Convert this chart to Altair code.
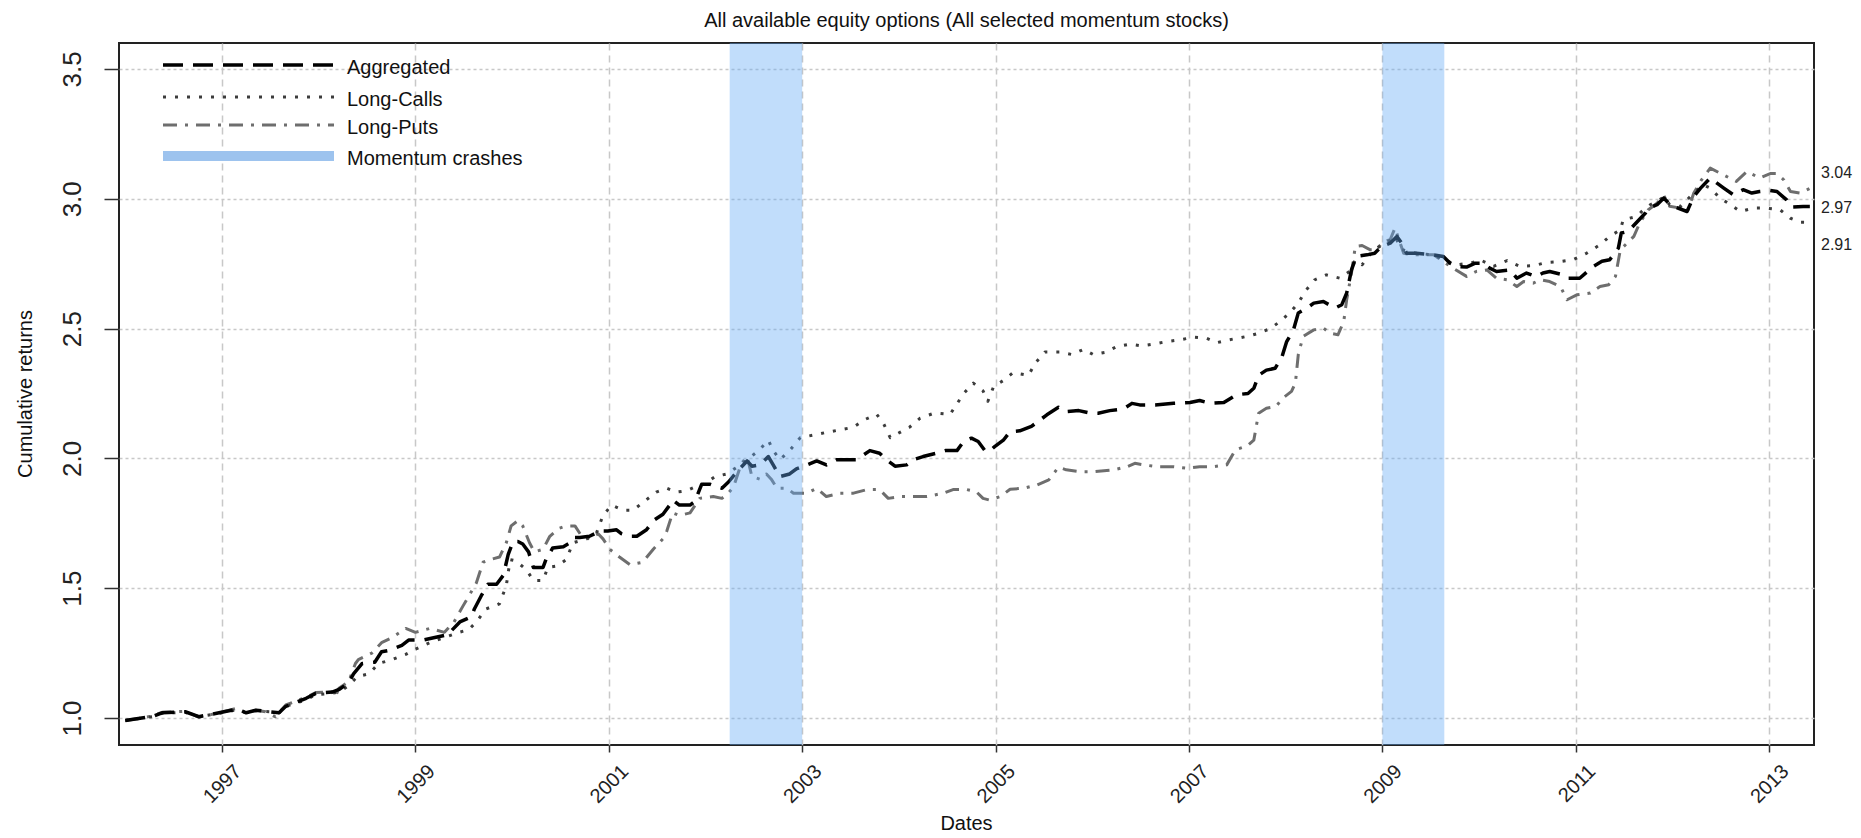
import altair as alt
import pandas as pd

# ---------------- data ----------------
TITLE = "All available equity options (All selected momentum stocks)"
X_TITLE = "Dates"
Y_TITLE = "Cumulative returns"
SERIES_NAMES = ["Aggregated", "Long-Calls", "Long-Puts"]
LEGEND_LABELS = ["Aggregated", "Long-Calls", "Long-Puts", "Momentum crashes"]
X_TICKS = [1997, 1999, 2001, 2003, 2005, 2007, 2009, 2011, 2013]
Y_TICKS = [1.0, 1.5, 2.0, 2.5, 3.0, 3.5]
CRASH_START = [2002.25, 2009.0]
CRASH_END = [2003.0, 2009.64]

AGGREGATED = [
    (1996.00, 0.99), (1996.17, 1.00), (1996.28, 1.005), (1996.38, 1.02), (1996.62, 1.024),
    (1996.76, 1.005), (1996.97, 1.02), (1997.16, 1.035), (1997.25, 1.02), (1997.35, 1.03),
    (1997.49, 1.024), (1997.59, 1.02), (1997.66, 1.045), (1997.87, 1.076), (1997.97, 1.095),
    (1998.14, 1.10), (1998.21, 1.11), (1998.31, 1.135), (1998.36, 1.17), (1998.45, 1.21),
    (1998.58, 1.215), (1998.65, 1.255), (1998.72, 1.26), (1998.86, 1.28), (1998.93, 1.30),
    (1999.08, 1.30), (1999.20, 1.31), (1999.33, 1.32), (1999.46, 1.37), (1999.58, 1.39),
    (1999.61, 1.42), (1999.68, 1.47), (1999.75, 1.515), (1999.84, 1.515), (1999.91, 1.55),
    (1999.96, 1.63), (2000.01, 1.68), (2000.06, 1.68), (2000.11, 1.67), (2000.17, 1.64),
    (2000.22, 1.58), (2000.32, 1.58), (2000.35, 1.61), (2000.42, 1.655), (2000.53, 1.66),
    (2000.60, 1.675), (2000.63, 1.695), (2000.70, 1.695), (2000.80, 1.70), (2000.91, 1.72),
    (2000.99, 1.72), (2001.08, 1.725), (2001.13, 1.71), (2001.22, 1.70), (2001.29, 1.70),
    (2001.39, 1.725), (2001.46, 1.76), (2001.56, 1.785), (2001.63, 1.82), (2001.66, 1.84),
    (2001.73, 1.82), (2001.84, 1.82), (2001.89, 1.834), (2001.96, 1.90), (2002.05, 1.90),
    (2002.12, 1.89), (2002.17, 1.885), (2002.24, 1.91), (2002.34, 1.955), (2002.43, 1.99),
    (2002.48, 1.97), (2002.56, 1.975), (2002.65, 2.007), (2002.70, 1.975), (2002.77, 1.93),
    (2002.87, 1.94), (2002.94, 1.96), (2003.05, 1.975), (2003.15, 1.99), (2003.25, 1.975),
    (2003.36, 1.995), (2003.56, 1.995), (2003.70, 2.03), (2003.80, 2.02), (2003.87, 1.995),
    (2003.96, 1.97), (2004.08, 1.975), (2004.15, 1.995), (2004.25, 2.007), (2004.39, 2.02),
    (2004.48, 2.03), (2004.60, 2.03), (2004.67, 2.065), (2004.75, 2.078), (2004.82, 2.065),
    (2004.89, 2.03), (2004.93, 2.026), (2004.99, 2.045), (2005.08, 2.07), (2005.15, 2.103),
    (2005.25, 2.106), (2005.37, 2.123), (2005.46, 2.148), (2005.53, 2.168), (2005.65, 2.197),
    (2005.73, 2.18), (2005.86, 2.184), (2005.98, 2.174), (2006.06, 2.174), (2006.18, 2.184),
    (2006.32, 2.19), (2006.41, 2.212), (2006.49, 2.206), (2006.65, 2.206), (2006.84, 2.212),
    (2007.01, 2.215), (2007.11, 2.223), (2007.22, 2.212), (2007.36, 2.215), (2007.49, 2.245),
    (2007.61, 2.25), (2007.67, 2.27), (2007.72, 2.32), (2007.80, 2.34), (2007.89, 2.347),
    (2007.96, 2.39), (2008.01, 2.45), (2008.08, 2.495), (2008.13, 2.56), (2008.22, 2.579),
    (2008.29, 2.598), (2008.39, 2.604), (2008.51, 2.579), (2008.58, 2.592), (2008.63, 2.636),
    (2008.68, 2.726), (2008.73, 2.778), (2008.84, 2.784), (2008.92, 2.79), (2008.99, 2.816),
    (2009.08, 2.829), (2009.15, 2.855), (2009.20, 2.829), (2009.25, 2.79), (2009.35, 2.79),
    (2009.53, 2.784), (2009.63, 2.778), (2009.70, 2.752), (2009.77, 2.739), (2009.87, 2.737),
    (2009.96, 2.752), (2010.04, 2.752), (2010.11, 2.733), (2010.18, 2.72), (2010.32, 2.726),
    (2010.39, 2.694), (2010.49, 2.714), (2010.59, 2.70), (2010.66, 2.714), (2010.73, 2.72),
    (2010.84, 2.71), (2010.91, 2.694), (2011.04, 2.694), (2011.18, 2.739), (2011.27, 2.759),
    (2011.35, 2.765), (2011.44, 2.81), (2011.47, 2.868), (2011.54, 2.874), (2011.72, 2.945),
    (2011.75, 2.964), (2011.84, 2.977), (2011.91, 3.003), (2011.96, 2.983), (2012.03, 2.968),
    (2012.15, 2.951), (2012.22, 3.009), (2012.29, 3.041), (2012.39, 3.08), (2012.46, 3.06),
    (2012.53, 3.041), (2012.63, 3.015), (2012.73, 3.035), (2012.82, 3.022), (2012.90, 3.028),
    (2013.01, 3.032), (2013.08, 3.028), (2013.18, 2.996), (2013.23, 2.968), (2013.35, 2.97),
    (2013.42, 2.97),
]

LONG_CALLS = [
    (1996.00, 0.99), (1996.17, 1.00), (1996.28, 1.005), (1996.38, 1.018), (1996.62, 1.022),
    (1996.76, 1.005), (1996.97, 1.018), (1997.16, 1.032), (1997.25, 1.02), (1997.35, 1.028),
    (1997.49, 1.024), (1997.59, 1.02), (1997.66, 1.045), (1997.87, 1.07), (1997.97, 1.09),
    (1998.14, 1.095), (1998.21, 1.10), (1998.31, 1.125), (1998.40, 1.16), (1998.52, 1.17),
    (1998.62, 1.21), (1998.76, 1.225), (1998.90, 1.245), (1999.00, 1.265), (1999.15, 1.29),
    (1999.30, 1.31), (1999.45, 1.33), (1999.55, 1.34), (1999.63, 1.37), (1999.73, 1.42),
    (1999.87, 1.44), (1999.94, 1.51), (1999.98, 1.61), (2000.04, 1.605), (2000.15, 1.57),
    (2000.22, 1.53), (2000.32, 1.53), (2000.37, 1.58), (2000.46, 1.585), (2000.56, 1.61),
    (2000.63, 1.675), (2000.77, 1.69), (2000.87, 1.71), (2000.94, 1.78), (2001.03, 1.82),
    (2001.15, 1.80), (2001.25, 1.80), (2001.37, 1.835), (2001.49, 1.87), (2001.60, 1.885),
    (2001.70, 1.87), (2001.80, 1.875), (2001.92, 1.895), (2001.98, 1.90), (2002.10, 1.93),
    (2002.22, 1.94), (2002.34, 1.97), (2002.43, 1.995), (2002.55, 2.03), (2002.65, 2.07),
    (2002.70, 2.03), (2002.77, 1.995), (2002.87, 2.03), (2002.98, 2.08), (2003.12, 2.09),
    (2003.25, 2.10), (2003.39, 2.11), (2003.53, 2.12), (2003.65, 2.15), (2003.77, 2.17),
    (2003.84, 2.135), (2003.91, 2.08), (2004.01, 2.10), (2004.11, 2.12), (2004.22, 2.155),
    (2004.37, 2.175), (2004.53, 2.17), (2004.60, 2.21), (2004.67, 2.25), (2004.77, 2.29),
    (2004.87, 2.26), (2004.92, 2.22), (2004.98, 2.277), (2005.08, 2.30), (2005.18, 2.33),
    (2005.34, 2.32), (2005.41, 2.367), (2005.51, 2.41), (2005.66, 2.41), (2005.79, 2.40),
    (2005.91, 2.42), (2006.01, 2.40), (2006.13, 2.408), (2006.25, 2.43), (2006.39, 2.44),
    (2006.51, 2.433), (2006.63, 2.44), (2006.77, 2.45), (2006.91, 2.457), (2007.05, 2.467),
    (2007.18, 2.463), (2007.29, 2.446), (2007.42, 2.457), (2007.60, 2.47), (2007.72, 2.482),
    (2007.84, 2.50), (2007.94, 2.527), (2008.04, 2.56), (2008.13, 2.598), (2008.20, 2.643),
    (2008.30, 2.688), (2008.42, 2.707), (2008.56, 2.694), (2008.66, 2.72), (2008.72, 2.765),
    (2008.79, 2.746), (2008.91, 2.804), (2009.04, 2.83), (2009.13, 2.855), (2009.20, 2.804),
    (2009.35, 2.79), (2009.53, 2.784), (2009.63, 2.765), (2009.77, 2.746), (2009.91, 2.752),
    (2010.01, 2.765), (2010.15, 2.74), (2010.29, 2.762), (2010.42, 2.74), (2010.56, 2.742),
    (2010.70, 2.755), (2010.84, 2.758), (2010.97, 2.765), (2011.11, 2.79), (2011.25, 2.823),
    (2011.35, 2.855), (2011.46, 2.88), (2011.49, 2.919), (2011.63, 2.932), (2011.70, 2.958),
    (2011.77, 2.977), (2011.84, 2.99), (2011.91, 3.007), (2011.97, 2.977), (2012.08, 2.97),
    (2012.22, 3.022), (2012.32, 3.054), (2012.39, 3.041), (2012.49, 3.003), (2012.60, 2.977),
    (2012.70, 2.951), (2012.84, 2.964), (2012.97, 2.964), (2013.11, 2.958), (2013.22, 2.925),
    (2013.32, 2.91), (2013.42, 2.91),
]

LONG_PUTS = [
    (1996.00, 0.99), (1996.17, 1.00), (1996.28, 1.008), (1996.38, 1.022), (1996.62, 1.026),
    (1996.76, 1.003), (1996.97, 1.02), (1997.16, 1.038), (1997.25, 1.018), (1997.35, 1.03),
    (1997.45, 1.024), (1997.55, 1.005), (1997.66, 1.05), (1997.87, 1.08), (1997.97, 1.098),
    (1998.14, 1.10), (1998.17, 1.08), (1998.21, 1.115), (1998.31, 1.14), (1998.38, 1.21),
    (1998.41, 1.225), (1998.55, 1.25), (1998.65, 1.29), (1998.76, 1.31), (1998.90, 1.345),
    (1999.00, 1.33), (1999.15, 1.345), (1999.30, 1.33), (1999.40, 1.37), (1999.49, 1.43),
    (1999.63, 1.52), (1999.70, 1.60), (1999.77, 1.61), (1999.87, 1.62), (1999.94, 1.675),
    (1999.99, 1.74), (2000.06, 1.76), (2000.11, 1.74), (2000.18, 1.675), (2000.23, 1.64),
    (2000.32, 1.65), (2000.39, 1.70), (2000.48, 1.73), (2000.56, 1.74), (2000.65, 1.74),
    (2000.72, 1.70), (2000.80, 1.69), (2000.89, 1.71), (2000.94, 1.69), (2001.01, 1.65),
    (2001.11, 1.62), (2001.22, 1.59), (2001.35, 1.60), (2001.46, 1.65), (2001.56, 1.69),
    (2001.60, 1.72), (2001.66, 1.79), (2001.73, 1.78), (2001.84, 1.79), (2001.94, 1.846),
    (2002.08, 1.853), (2002.17, 1.846), (2002.22, 1.86), (2002.29, 1.89), (2002.37, 1.98),
    (2002.43, 2.007), (2002.48, 1.93), (2002.56, 1.92), (2002.63, 1.94), (2002.68, 1.92),
    (2002.74, 1.885), (2002.84, 1.885), (2002.91, 1.866), (2003.05, 1.866), (2003.15, 1.885),
    (2003.25, 1.853), (2003.39, 1.866), (2003.53, 1.866), (2003.67, 1.88), (2003.80, 1.88),
    (2003.89, 1.846), (2004.01, 1.853), (2004.15, 1.853), (2004.29, 1.853), (2004.46, 1.866),
    (2004.56, 1.88), (2004.70, 1.88), (2004.80, 1.872), (2004.87, 1.846), (2004.93, 1.84),
    (2005.05, 1.853), (2005.15, 1.881), (2005.29, 1.885), (2005.43, 1.898), (2005.55, 1.917),
    (2005.65, 1.966), (2005.73, 1.956), (2005.87, 1.949), (2006.01, 1.949), (2006.22, 1.956),
    (2006.36, 1.968), (2006.44, 1.981), (2006.53, 1.975), (2006.67, 1.968), (2006.84, 1.968),
    (2006.98, 1.962), (2007.11, 1.968), (2007.25, 1.968), (2007.39, 1.975), (2007.48, 2.033),
    (2007.60, 2.048), (2007.67, 2.07), (2007.72, 2.174), (2007.80, 2.193), (2007.90, 2.20),
    (2007.97, 2.232), (2008.06, 2.258), (2008.10, 2.29), (2008.13, 2.40), (2008.18, 2.47),
    (2008.29, 2.495), (2008.39, 2.502), (2008.46, 2.482), (2008.54, 2.476), (2008.60, 2.527),
    (2008.63, 2.61), (2008.68, 2.714), (2008.72, 2.817), (2008.79, 2.82), (2008.87, 2.804),
    (2008.94, 2.804), (2009.01, 2.836), (2009.08, 2.842), (2009.13, 2.887), (2009.16, 2.855),
    (2009.22, 2.79), (2009.32, 2.784), (2009.53, 2.784), (2009.63, 2.758), (2009.73, 2.733),
    (2009.87, 2.701), (2009.97, 2.72), (2010.08, 2.726), (2010.18, 2.694), (2010.29, 2.688),
    (2010.39, 2.662), (2010.46, 2.681), (2010.56, 2.675), (2010.63, 2.688), (2010.73, 2.681),
    (2010.84, 2.662), (2010.91, 2.611), (2011.01, 2.63), (2011.15, 2.637), (2011.25, 2.662),
    (2011.34, 2.669), (2011.41, 2.701), (2011.46, 2.803), (2011.53, 2.829), (2011.60, 2.855),
    (2011.66, 2.906), (2011.75, 2.958), (2011.84, 2.983), (2011.91, 3.012), (2011.97, 2.971),
    (2012.08, 2.964), (2012.15, 2.945), (2012.22, 3.022), (2012.30, 3.073), (2012.39, 3.118),
    (2012.49, 3.099), (2012.59, 3.08), (2012.66, 3.067), (2012.77, 3.105), (2012.90, 3.08),
    (2013.01, 3.097), (2013.08, 3.097), (2013.15, 3.073), (2013.22, 3.028), (2013.32, 3.022),
    (2013.42, 3.04),
]

# ---------------- layout / style ----------------
W, H = 1695, 702
FONT = "Liberation Sans"
X_DOMAIN = [1995.935, 2013.463]
Y_DOMAIN = [0.896, 3.60]

STYLES = {
    "Aggregated": dict(color="#000000", strokeDash=[20, 10], strokeWidth=3.5),
    "Long-Calls": dict(color="#3c3c3c", strokeDash=[3, 9], strokeWidth=3),
    "Long-Puts": dict(color="#6e6e6e", strokeDash=[14, 8, 3, 8], strokeWidth=3),
}
BAND_FILL = "rgb(100,170,245)"
LEGEND_BAND = "#9dc3ee"

rows = []
for name, pts in zip(SERIES_NAMES, [AGGREGATED, LONG_CALLS, LONG_PUTS]):
    for t, v in pts:
        rows.append({"series": name, "t": t, "v": v})
df = pd.DataFrame(rows)

xscale = alt.Scale(domain=X_DOMAIN, nice=False, zero=False)
yscale = alt.Scale(domain=Y_DOMAIN, nice=False, zero=False)

xaxis = alt.Axis(
    values=X_TICKS, format="d", title=None, grid=True, gridColor="#c8c8c8",
    gridDash=[7, 5], gridWidth=1.5, domain=False, ticks=True, tickSize=7,
    tickColor="#333333", tickWidth=1.5, labelAngle=-45, labelAlign="right",
    labelBaseline="middle", labelPadding=16, labelOffset=16, labelFontSize=20,
    labelFont=FONT, labelColor="#222222", labelOverlap=False, labelFlush=False,
)
yaxis = alt.Axis(
    values=Y_TICKS, format=".1f", title=None, grid=True, gridColor="#c8c8c8",
    gridDash=[3, 3], gridWidth=1.5, domain=False, ticks=True, tickSize=15,
    tickColor="#333333", tickWidth=1.5, labelAngle=270, labelAlign="center",
    labelBaseline="alphabetic", labelPadding=24, labelFontSize=26, labelFont=FONT,
    labelColor="#222222", labelOverlap=False, labelFlush=False,
)


def line_layer(name):
    s = STYLES[name]
    return (
        alt.Chart(df)
        .transform_filter(alt.datum.series == name)
        .mark_line(color=s["color"], strokeDash=s["strokeDash"], strokeWidth=s["strokeWidth"],
                   strokeCap="butt", strokeJoin="round", clip=True)
        .encode(
            x=alt.X("t:Q", scale=xscale, axis=xaxis),
            y=alt.Y("v:Q", scale=yscale, axis=yaxis),
            order=alt.Order("t:Q"),
        )
    )


band_df = pd.DataFrame({"t": CRASH_START, "end": CRASH_END})
band = alt.Chart(band_df).mark_rect(color=BAND_FILL, opacity=0.4).encode(
    x=alt.X("t:Q", scale=xscale, axis=xaxis),
    x2="end:Q",
    y=alt.value(0),
    y2=alt.value(H),
)


def one_text(txt, x, y, size, align="left", baseline="middle", angle=0, color="#111111"):
    kw = dict(align=align, baseline=baseline, fontSize=size, font=FONT, color=color)
    if angle:
        kw["angle"] = angle
    return alt.Chart(pd.DataFrame({"label": [txt]})).mark_text(**kw).encode(
        x=alt.value(x), y=alt.value(y), text="label:N"
    )


def legend_rule(y, color, width, dash=None):
    kw = dict(color=color, strokeWidth=width, strokeCap="butt")
    if dash:
        kw["strokeDash"] = dash
    return alt.Chart(pd.DataFrame({"k": [0]})).mark_rule(**kw).encode(
        x=alt.value(44), x2=alt.value(215), y=alt.value(y)
    )


legend_rows_y = [22, 54, 82, 113]
legend_layers = []
for lab, ly in zip(LEGEND_LABELS, legend_rows_y):
    if lab in STYLES:
        s = STYLES[lab]
        legend_layers.append(legend_rule(ly, s["color"], s["strokeWidth"], s["strokeDash"]))
    else:
        legend_layers.append(legend_rule(ly, LEGEND_BAND, 10))
    legend_layers.append(one_text(lab, 228, ly + 3, 20))

end_labels = [
    one_text(f"{LONG_PUTS[-1][1]:.2f}", 1702, 130, 16, color="#222222"),
    one_text(f"{AGGREGATED[-1][1]:.2f}", 1702, 165, 16, color="#222222"),
    one_text(f"{LONG_CALLS[-1][1]:.2f}", 1702, 202, 16, color="#222222"),
]

titles = [
    one_text(TITLE, W / 2, -16, 20, align="center", baseline="alphabetic", color="#111111"),
    one_text(X_TITLE, W / 2, 787, 20, align="center", baseline="alphabetic", color="#111111"),
    one_text(Y_TITLE, -87, H / 2, 20, align="center", baseline="alphabetic", angle=270,
             color="#111111"),
]

chart = alt.layer(
    line_layer("Long-Puts"),
    line_layer("Long-Calls"),
    line_layer("Aggregated"),
    band,
    *legend_layers,
    *end_labels,
    *titles,
).properties(
    width=W,
    height=H,
    background="white",
    padding={"left": 111, "top": 35, "right": 39, "bottom": 91},
    autosize=alt.AutoSizeParams(type="none"),
).configure_view(
    stroke="#222222", strokeWidth=2
)

chart.save("out.html", embed_options={"renderer": "svg", "actions": False})
